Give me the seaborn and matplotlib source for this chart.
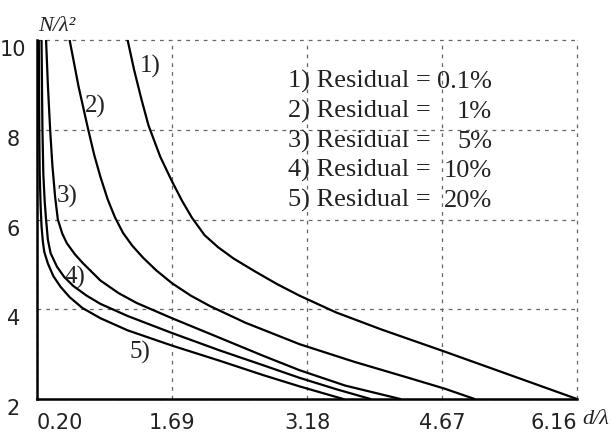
import numpy as np
import pandas as pd
import seaborn as sns
import matplotlib
matplotlib.use('Agg')
import matplotlib.pyplot as plt

# values
curve1_d = [1.20, 1.27, 1.35, 1.43, 1.56, 1.69, 1.80, 1.91, 2.05, 2.20, 2.37, 2.60, 2.85, 3.10,
            3.50, 4.00, 4.68, 5.40, 6.16]
curve1_n = [10.0, 9.35, 8.70, 8.10, 7.40, 6.85, 6.42, 6.04, 5.65, 5.38, 5.13, 4.85, 4.56, 4.30,
            3.93, 3.55, 3.07, 2.55, 2.00]

curve2_d = [0.56, 0.66, 0.76, 0.83, 0.90, 0.98, 1.06, 1.15, 1.25, 1.37, 1.52, 1.69, 1.90, 2.11,
            2.50, 3.10, 3.70, 4.32, 4.70, 5.03]
curve2_n = [10.0, 8.95, 8.05, 7.45, 6.95, 6.45, 6.05, 5.70, 5.42, 5.15, 4.86, 4.58, 4.30, 4.07,
            3.70, 3.22, 2.83, 2.46, 2.23, 2.00]

curve3_d = [0.30, 0.32, 0.345, 0.37, 0.40, 0.43, 0.48, 0.53, 0.62, 0.71, 0.90, 1.10, 1.30, 1.69,
            2.22, 2.70, 3.10, 3.60, 4.21]
curve3_n = [10.0, 9.0, 8.0, 7.2, 6.5, 6.0, 5.68, 5.47, 5.22, 5.02, 4.64, 4.36, 4.14, 3.80,
            3.36, 2.96, 2.64, 2.30, 2.00]

curve4_d = [0.25, 0.26, 0.27, 0.285, 0.30, 0.32, 0.35, 0.42, 0.50, 0.60, 0.75, 0.90, 1.20, 1.69,
            2.22, 2.70, 3.10, 3.50, 3.88]
curve4_n = [10.0, 8.0, 7.0, 6.4, 6.0, 5.55, 5.25, 4.95, 4.72, 4.52, 4.30, 4.12, 3.85, 3.47,
            3.08, 2.75, 2.47, 2.22, 2.00]

curve5_d = [0.22, 0.225, 0.23, 0.24, 0.25, 0.265, 0.28, 0.32, 0.38, 0.46, 0.56, 0.70, 0.90, 1.20,
            1.69, 2.22, 2.70, 3.10, 3.58]
curve5_n = [10.0, 8.0, 7.0, 6.3, 5.85, 5.5, 5.28, 5.02, 4.74, 4.50, 4.27, 4.03, 3.80, 3.53,
            3.19, 2.85, 2.53, 2.28, 2.00]

curve_names = ["1)", "2)", "3)", "4)", "5)"]
label_d = [1.45, 0.84, 0.53, 0.62, 1.34]
label_n = [9.40, 8.51, 6.51, 4.70, 3.03]

residual_text = ["1) Residual =", "2) Residual =", "3) Residual =", "4) Residual =", "5) Residual ="]
residual_vals = ["0.1%", "1%", "5%", "10%", "20%"]

x_ticks = [0.20, 1.69, 3.18, 4.67, 6.16]
y_ticks = [2, 4, 6, 8, 10]

sns.set_theme(style="white")
plt.rcParams['font.family'] = ['DejaVu Sans']
serif = ['Liberation Serif', 'DejaVu Serif']

all_d = [curve1_d, curve2_d, curve3_d, curve4_d, curve5_d]
all_n = [curve1_n, curve2_n, curve3_n, curve4_n, curve5_n]
df = pd.concat([pd.DataFrame({'d': d, 'N': n, 'curve': name})
                for d, n, name in zip(all_d, all_n, curve_names)], ignore_index=True)

fig, ax = plt.subplots(figsize=(6.11, 4.34), dpi=100)
fig.subplots_adjust(left=37/611, right=577/611, bottom=35/434, top=394/434)

sns.lineplot(data=df, x='d', y='N', hue='curve', palette=['black'] * 5,
             sort=False, estimator=None, legend=False, lw=1.6, ax=ax)

ax.set_xlim(0.20, 6.16)
ax.set_ylim(2, 10)
ax.set_xticks(x_ticks)
ax.set_xticklabels([f"{v:.2f}" for v in x_ticks])
ax.set_yticks(y_ticks)
ax.set_yticklabels([str(v) for v in y_ticks])
ax.set_xlabel('')
ax.set_ylabel('')

ax.grid(True, linestyle=(0, (3, 4)), color='0.4', lw=0.9)
for gl in ax.get_xgridlines() + ax.get_ygridlines():
    gl.set_clip_on(False)

for s in ['top', 'right']:
    ax.spines[s].set_visible(False)
for s in ['left', 'bottom']:
    ax.spines[s].set_color('black')
    ax.spines[s].set_linewidth(1.8)
    ax.spines[s].set_zorder(5)

ax.tick_params(axis='both', length=0, labelsize=15, colors='#222222')
ax.tick_params(axis='x', pad=10)
ax.tick_params(axis='y', pad=17)
for lab in ax.get_yticklabels():
    lab.set_horizontalalignment('center')
    lab.set_verticalalignment('top')
xl = ax.get_xticklabels()
xl[0].set_horizontalalignment('left')
xl[-1].set_horizontalalignment('right')

for name, dx, ny in zip(curve_names, label_d, label_n):
    ax.text(dx, ny, name, family=serif, fontsize=18, ha='center', va='center', color='#222222')

baselines = [88, 118, 148, 177, 207]
for txt, val, by in zip(residual_text, residual_vals, baselines):
    fig.text(288/611, 1 - by/434, txt, family=serif, fontsize=19, ha='left', va='baseline', color='#222222')
    fig.text(492/611, 1 - by/434, val, family=serif, fontsize=19, ha='right', va='baseline', color='#222222')

fig.text(38/611, 1 - 31/434, "N/λ²", family=serif, style='italic', fontsize=16, ha='left', va='baseline', color='#222222')
fig.text(582/611, 1 - 424/434, "d/λ", family=serif, style='italic', fontsize=16, ha='left', va='baseline', color='#222222')

fig.savefig('out.png', dpi=100)
